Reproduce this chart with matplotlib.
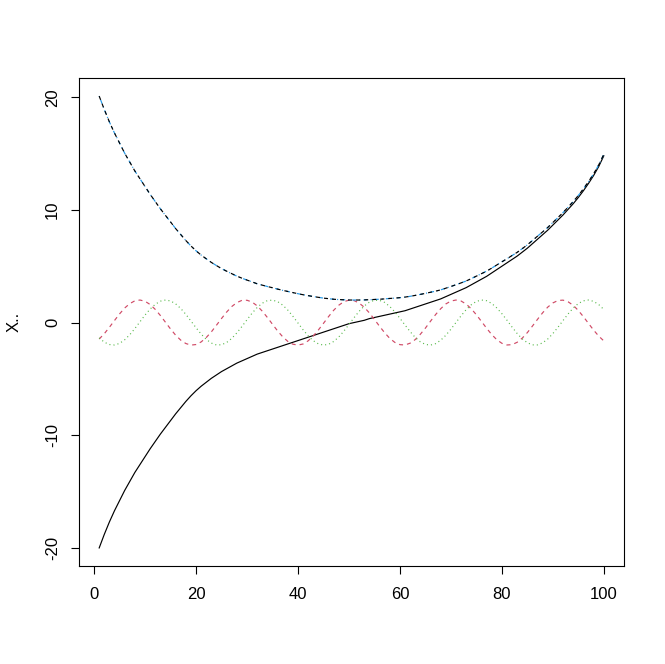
import numpy as np
import matplotlib
matplotlib.use("Agg")
import matplotlib.pyplot as plt

# values, one per index 1..100
idx = np.arange(1, 101)

lower = [
    -20.0, -18.8, -17.7, -16.7, -15.8, -14.9, -14.1, -13.3, -12.6, -11.9,
    -11.2, -10.55, -9.9, -9.3, -8.7, -8.1, -7.55, -7.0, -6.5, -6.05,
    -5.65, -5.3, -4.95, -4.65, -4.35, -4.1, -3.85, -3.6, -3.4, -3.2,
    -3.0, -2.8, -2.65, -2.5, -2.35, -2.2, -2.05, -1.9, -1.75, -1.6,
    -1.45, -1.3, -1.15, -1.0, -0.85, -0.7, -0.55, -0.4, -0.25, -0.1,
    0.0, 0.1, 0.2, 0.35, 0.45, 0.55, 0.65, 0.75, 0.85, 0.95,
    1.05, 1.2, 1.35, 1.5, 1.65, 1.8, 1.95, 2.1, 2.3, 2.5,
    2.7, 2.9, 3.1, 3.35, 3.6, 3.85, 4.1, 4.4, 4.7, 5.0,
    5.3, 5.6, 5.9, 6.25, 6.6, 7.0, 7.4, 7.8, 8.2, 8.65,
    9.1, 9.55, 10.05, 10.55, 11.1, 11.7, 12.35, 13.05, 13.85, 14.8,
]

upper = [
    20.10, 18.91, 17.81, 16.82, 15.93, 15.03, 14.24, 13.45, 12.76, 12.07,
    11.38, 10.74, 10.10, 9.51, 8.93, 8.34, 7.81, 7.28, 6.80, 6.37,
    5.99, 5.66, 5.34, 5.06, 4.79, 4.56, 4.34, 4.12, 3.94, 3.77,
    3.61, 3.44, 3.32, 3.20, 3.09, 2.97, 2.86, 2.76, 2.66, 2.56,
    2.47, 2.39, 2.31, 2.24, 2.17, 2.12, 2.07, 2.04, 2.02, 2.00,
    2.00, 2.00, 2.01, 2.03, 2.05, 2.07, 2.10, 2.14, 2.17, 2.21,
    2.26, 2.33, 2.41, 2.50, 2.59, 2.69, 2.79, 2.90, 3.05, 3.20,
    3.36, 3.52, 3.69, 3.90, 4.12, 4.34, 4.56, 4.83, 5.11, 5.39,
    5.66, 5.95, 6.23, 6.56, 6.90, 7.28, 7.67, 8.05, 8.44, 8.88,
    9.32, 9.76, 10.25, 10.74, 11.28, 11.87, 12.51, 13.20, 13.99, 14.93,
]

wave_a = [
    -1.46, -0.99, -0.42, 0.18, 0.77, 1.29, 1.68, 1.93, 2.00, 1.89,
    1.60, 1.17, 0.63, 0.03, -0.57, -1.12, -1.56, -1.86, -2.00, -1.95,
    -1.72, -1.33, -0.83, -0.24, 0.36, 0.93, 1.42, 1.77, 1.97, 1.98,
    1.82, 1.48, 1.01, 0.45, -0.15, -0.74, -1.26, -1.67, -1.92, -2.00,
    -1.90, -1.62, -1.19, -0.66, -0.07, 0.53, 1.09, 1.54, 1.85, 1.99,
    1.95, 1.73, 1.36, 0.86, 0.28, -0.33, -0.90, -1.40, -1.76, -1.96,
    -1.99, -1.83, -1.51, -1.04, -0.49, 0.12, 0.71, 1.23, 1.65, 1.91,
    2.00, 1.91, 1.64, 1.22, 0.69, 0.10, -0.50, -1.06, -1.52, -1.84,
    -1.99, -1.96, -1.75, -1.38, -0.89, -0.31, 0.29, 0.87, 1.37, 1.74,
    1.96, 1.99, 1.84, 1.53, 1.07, 0.52, -0.08, -0.67, -1.20, -1.63,
]

wave_b = [
    -1.36, -1.74, -1.95, -1.99, -1.85, -1.53, -1.08, -0.53, 0.07, 0.67,
    1.20, 1.62, 1.90, 2.00, 1.92, 1.66, 1.25, 0.73, 0.14, -0.46,
    -1.02, -1.49, -1.82, -1.99, -1.97, -1.77, -1.41, -0.92, -0.35, 0.25,
    0.84, 1.34, 1.72, 1.95, 1.99, 1.86, 1.55, 1.11, 0.56, -0.04,
    -0.64, -1.18, -1.61, -1.89, -2.00, -1.93, -1.68, -1.28, -0.76, -0.17,
    0.43, 1.00, 1.47, 1.81, 1.98, 1.97, 1.79, 1.43, 0.95, 0.38,
    -0.22, -0.80, -1.32, -1.71, -1.94, -2.00, -1.87, -1.57, -1.13, -0.59,
    0.01, 0.60, 1.15, 1.58, 1.88, 2.00, 1.94, 1.70, 1.30, 0.79,
    0.21, -0.40, -0.97, -1.45, -1.79, -1.98, -1.98, -1.80, -1.46, -0.98,
    -0.42, 0.18, 0.77, 1.29, 1.69, 1.93, 2.00, 1.88, 1.60, 1.16,
]

plt.rcParams['font.family'] = ['Liberation Sans', 'DejaVu Sans']
plt.rcParams['lines.scale_dashes'] = False

fig = plt.figure(figsize=(6.65, 6.64), dpi=100)
ax = fig.add_axes([79 / 665, 98 / 664, 545 / 665, 488 / 664])

lw = 0.85
ax.plot(idx, lower, color='black', lw=lw)
ax.plot(idx, wave_a, color='#D04A66', lw=lw, dashes=(2.9, 2.9))
ax.plot(idx, wave_b, color='#55B848', lw=lw, dashes=(0.75, 2.2))
ax.plot(idx, upper, color='#2297E6', lw=lw, dashes=(0.75, 2.2, 2.9, 2.2))
ax.plot(idx, upper, color='black', lw=lw, dashes=(2.9, 2.9))

ax.set_xlim(1 - 0.04 * 99, 100 + 0.04 * 99)
ax.set_ylim(-20 - 0.04 * 40.1, 20.1 + 0.04 * 40.1)
ax.set_xticks([0, 20, 40, 60, 80, 100])
ax.set_yticks([-20, -10, 0, 10, 20])
ax.set_yticklabels(['-20', '-10', '0', '10', '20'], rotation=90, va='center')
ax.tick_params(direction='out', length=6, width=0.8, labelsize=12)
ax.tick_params(axis='x', pad=9)
ax.tick_params(axis='y', pad=7.5)
ax.set_ylabel('X..', fontsize=12, labelpad=17)
for s in ax.spines.values():
    s.set_linewidth(0.8)

fig.savefig('out.png', dpi=100, facecolor='white')
